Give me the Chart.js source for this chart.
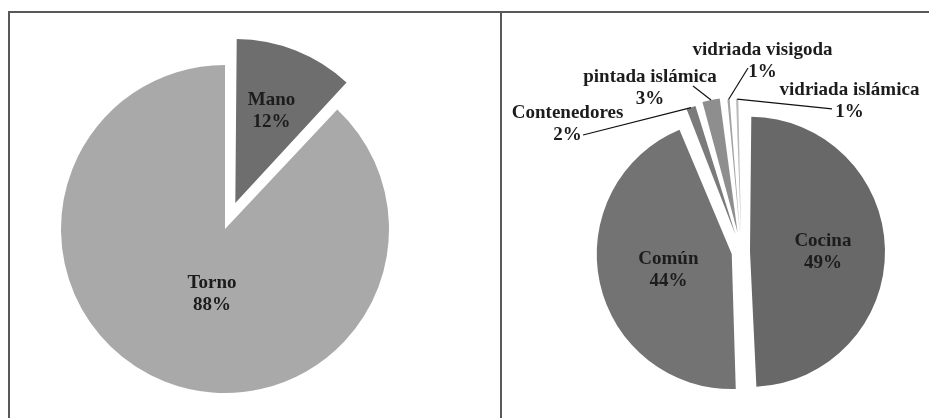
<!DOCTYPE html>
<html><head><meta charset="utf-8">
<script src="https://cdn.jsdelivr.net/npm/chart.js@4.4.1/dist/chart.umd.min.js"></script>
<style>
html,body{margin:0;padding:0;width:929px;height:418px;overflow:hidden;background:#fff;}
canvas{position:absolute;left:0;top:0;}
.ln{position:absolute;background:#585858;}
</style></head><body>
<div class="ln" style="left:8px;top:11px;width:921px;height:2px"></div>
<div class="ln" style="left:8px;top:11px;width:2px;height:407px"></div>
<div class="ln" style="left:500px;top:11px;width:2px;height:407px"></div>
<canvas id="c1" width="929" height="418"></canvas>
<canvas id="c2" width="929" height="418"></canvas>
<script>
// ---- data ----
const techCategories = ['Mano', 'Torno'];
const techValues = [12, 88];
const typeCategories = ['Cocina', 'Común', 'Contenedores', 'pintada islámica', 'vidriada visigoda', 'vidriada islámica'];
const typeValues = [49.4, 44.4, 1.7, 2.7, 0.9, 0.9];

// ---- style ----
const FONT = 'bold 19px "Liberation Serif", "Times New Roman", serif';
const techColors = ['#6e6e6e', '#a9a9a9'];
const typeColors = ['#686868', '#737373', '#7b7b7b', '#8e8e8e', '#a3a3a3', '#b9b9b9'];
const techOffsets = [112, 0];          // Chart.js offset units (px*4)
const typeOffsets = [34, 40, 72, 80, 72, 72];
const techPlace = [{f:0.6, dx:0, dy:0}, {f:0.43, dx:13, dy:0}];
const typePlace = [
  {f:0.54, dx:0, dy:2},
  {f:0.48, dx:0, dy:2},
  {out:true, tx:-123.5, ty:16.4, lx:-108, ly:27.4},
  {out:true, tx:-61, ty:-12, lx:-18, ly:-14},
  {out:true, tx:34, ty:-38.6, lx:19.5, ly:-31.6},
  {out:true, tx:112.3, ty:2.4, lx:94.8, ly:9.9}
];

const radiusFix = {
  id: 'radiusFix',
  afterDatasetsUpdate(chart) {
    const meta = chart.getDatasetMeta(0);
    const R = meta.controller.outerRadius;
    meta.data.forEach(el => {
      const off = (el.options.offset || 0) / 4;
      const fix = 1 - Math.sin(Math.min(Math.PI, el.circumference));
      el.outerRadius = R - off * fix;
    });
  }
};

function makeLabelPlugin(cats, vals, place) {
  return {
    id: 'sliceLabels',
    afterDatasetsDraw(chart) {
      const ctx = chart.ctx;
      const meta = chart.getDatasetMeta(0);
      const R = meta.controller.outerRadius;
      const total = vals.reduce((a, b) => a + b, 0);
      ctx.save();
      ctx.font = FONT;
      ctx.fillStyle = '#1c1c1c';
      ctx.strokeStyle = '#111';
      ctx.lineWidth = 1.2;
      ctx.textAlign = 'center';
      ctx.textBaseline = 'middle';
      meta.data.forEach((el, i) => {
        const mid = (el.startAngle + el.endAngle) / 2;
        const off = (el.options.offset || 0) / 4;
        const ux = Math.cos(mid), uy = Math.sin(mid);
        const ax = el.x + ux * off, ay = el.y + uy * off;
        const lines = [cats[i], Math.round(vals[i] / total * 100) + '%'];
        const p = place[i];
        let cx, cy;
        if (p.out) {
          const ox = ax + ux * R, oy = ay + uy * R;
          ctx.beginPath();
          ctx.moveTo(ox, oy);
          ctx.lineTo(ox + p.lx, oy + p.ly);
          ctx.stroke();
          cx = ox + p.tx; cy = oy + p.ty;
        } else {
          cx = ax + ux * p.f * R + p.dx;
          cy = ay + uy * p.f * R + p.dy;
        }
        const lh = 22;
        lines.forEach((t, k) => ctx.fillText(t, cx, cy + (k - (lines.length - 1) / 2) * lh));
      });
      ctx.restore();
    }
  };
}

function makePie(id, cats, vals, colors, offsets, place, radius, padding) {
  return new Chart(document.getElementById(id), {
    type: 'pie',
    data: {
      labels: cats,
      datasets: [{
        data: vals,
        backgroundColor: colors,
        borderWidth: 0,
        offset: offsets,
        clip: false
      }]
    },
    options: {
      responsive: false,
      animation: false,
      events: [],
      radius: radius,
      layout: { padding: padding },
      plugins: { legend: { display: false }, tooltip: { enabled: false } }
    },
    plugins: [radiusFix, makeLabelPlugin(cats, vals, place)]
  });
}

makePie('c1', techCategories, techValues, techColors, techOffsets, techPlace, 164,
  {left: 0, right: 479, top: 40, bottom: 0});
makePie('c2', typeCategories, typeValues, typeColors, typeOffsets, typePlace, 135,
  {left: 555, right: 1, top: 86, bottom: 0});
</script>
</body></html>
